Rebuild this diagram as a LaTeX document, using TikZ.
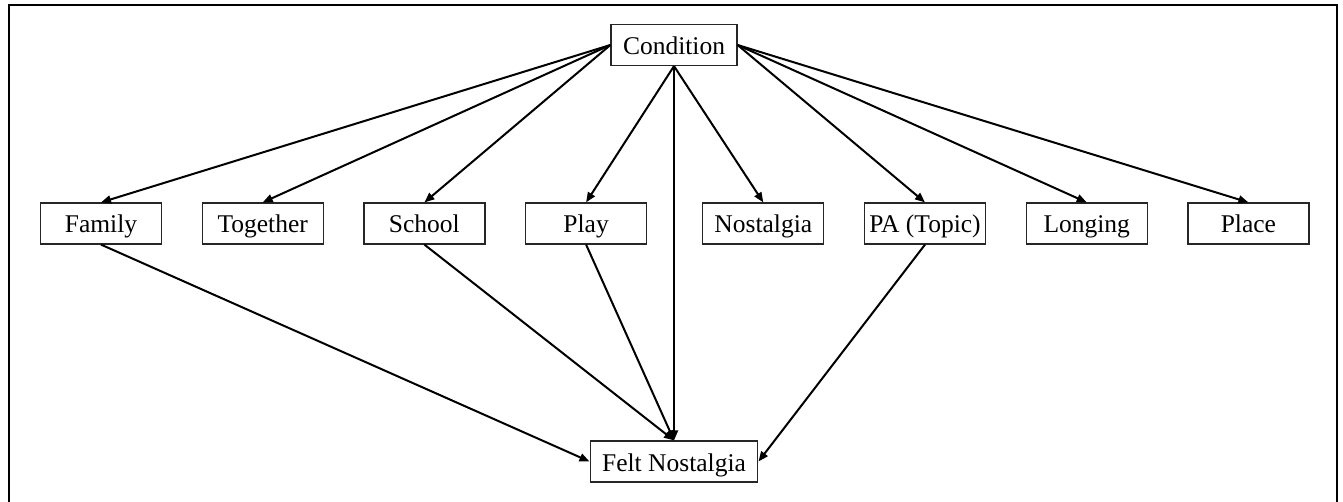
\documentclass[tikz,border=0pt]{standalone}
\usepackage{fontspec}
\setmainfont{Liberation Serif}
\usetikzlibrary{arrows.meta, positioning}

\begin{document}
\begin{tikzpicture}[
  x=1pt, y=-1pt,
  font=\fontsize{25.5}{30}\selectfont,
  box/.style={draw=black!85, line width=1.2pt, align=center, inner xsep=2pt,
              inner ysep=0pt, minimum width=121pt, minimum height=41pt,
              text height=21pt, text depth=2pt, fill=white},
  wide/.style={box, inner xsep=12pt},
  arr/.style={line width=2pt, -{Triangle[length=10pt, width=8pt]}}
]
\clip (0,0) rectangle (1343,502);
\draw[line width=2pt] (9,5) rectangle (1337,540);
\node[wide] (cond) at (674,45) {Condition};
\node[wide] (felt) at (674,461.5) {Felt Nostalgia};
\node[box] (family) at (101,223.5) {Family};
\node[box, right=39.5pt of family] (together) {Together};
\node[box, right=39.5pt of together] (school) {School};
\node[box, right=39.5pt of school] (play) {Play};
\node[box, right=55pt of play] (nostalgia) {Nostalgia};
\node[box, right=39.5pt of nostalgia] (pa) {PA (Topic)};
\node[box, right=39.5pt of pa] (longing) {Longing};
\node[box, right=39.5pt of longing] (place) {Place};
\draw[arr] (cond.west) -- (family.north);
\draw[arr] (cond.west) -- (together.north);
\draw[arr] (cond.west) -- (school.north);
\draw[arr] (cond.south) -- (play.north);
\draw[arr] (cond.south) -- (felt.north);
\draw[arr] (cond.south) -- (nostalgia.north);
\draw[arr] (cond.east) -- (pa.north);
\draw[arr] (cond.east) -- (longing.north);
\draw[arr] (cond.east) -- (place.north);
\draw[arr] (family.south) -- (felt.west);
\draw[arr] (school.south) -- (felt.north);
\draw[arr] (play.south) -- (felt.north);
\draw[arr] (pa.south) -- (felt.east);
\end{tikzpicture}
\end{document}
